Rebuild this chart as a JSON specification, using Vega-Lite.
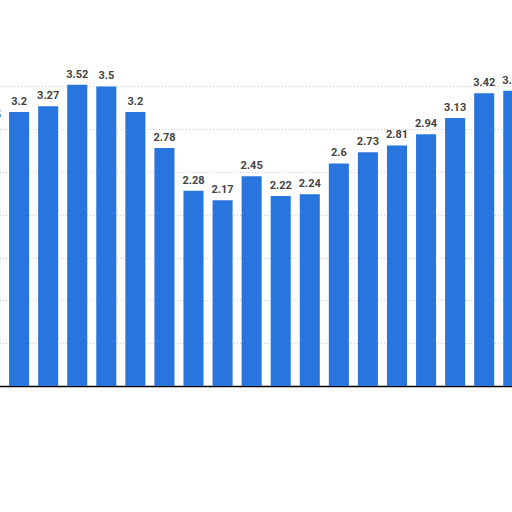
{
  "$schema": "https://vega.github.io/schema/vega-lite/v6.json",
  "width": 512,
  "height": 386,
  "autosize": {"type": "none"},
  "padding": {"left": 0, "top": 0, "right": 0, "bottom": 126},
  "background": "white",
  "data": {
    "values": [
      {"bar": 0, "value": 3.05},
      {"bar": 1, "value": 3.2},
      {"bar": 2, "value": 3.27},
      {"bar": 3, "value": 3.52},
      {"bar": 4, "value": 3.5},
      {"bar": 5, "value": 3.2},
      {"bar": 6, "value": 2.78},
      {"bar": 7, "value": 2.28},
      {"bar": 8, "value": 2.17},
      {"bar": 9, "value": 2.45},
      {"bar": 10, "value": 2.22},
      {"bar": 11, "value": 2.24},
      {"bar": 12, "value": 2.6},
      {"bar": 13, "value": 2.73},
      {"bar": 14, "value": 2.81},
      {"bar": 15, "value": 2.94},
      {"bar": 16, "value": 3.13},
      {"bar": 17, "value": 3.42},
      {"bar": 18, "value": 3.45}
    ]
  },
  "config": {
    "view": {"stroke": "transparent"},
    "font": "Roboto"
  },
  "encoding": {
    "x": {
      "field": "bar",
      "type": "ordinal",
      "scale": {"range": [-24.5, 527.8], "paddingInner": 0.31, "paddingOuter": 0.155},
      "axis": {
        "title": null,
        "labels": false,
        "ticks": false,
        "domainColor": "#000000",
        "domainWidth": 1.5
      }
    },
    "y": {
      "field": "value",
      "type": "quantitative",
      "scale": {"domain": [0, 4.51], "nice": false},
      "axis": {
        "title": null,
        "labels": false,
        "ticks": false,
        "domain": false,
        "values": [0.5, 1, 1.5, 2, 2.5, 3, 3.5],
        "gridColor": "#cccccc",
        "gridDash": [1, 2],
        "gridWidth": 1
      }
    }
  },
  "layer": [
    {
      "mark": {"type": "bar", "color": "#2876dd"}
    },
    {
      "mark": {
        "type": "text",
        "font": "Roboto",
        "fontWeight": "bold",
        "fontSize": 11,
        "baseline": "alphabetic",
        "dy": -7,
        "color": "#444444"
      },
      "encoding": {
        "text": {"field": "value", "type": "quantitative"}
      }
    }
  ]
}
